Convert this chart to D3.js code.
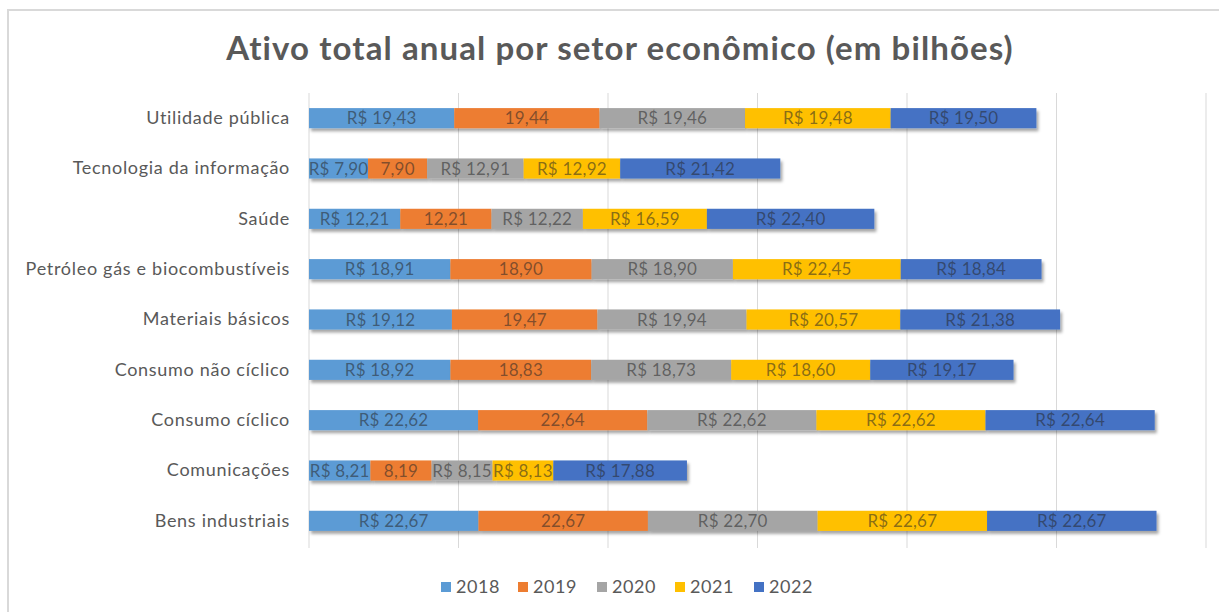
<!DOCTYPE html>
<html>
<head>
<meta charset="utf-8">
<script src="https://cdn.jsdelivr.net/npm/d3@7"></script>
<style>
  body { margin: 0; background: #fff; }
  svg { font-family: Lato, "Liberation Sans", sans-serif; }
</style>
</head>
<body>
<script>
// data
var sectors = ["Utilidade pública", "Tecnologia da informação", "Saúde",
    "Petróleo gás e biocombustíveis", "Materiais básicos", "Consumo não cíclico",
    "Consumo cíclico", "Comunicações", "Bens industriais"];
var years = ["2018", "2019", "2020", "2021", "2022"];
var v2018 = [19.43, 7.90, 12.21, 18.91, 19.12, 18.92, 22.62, 8.21, 22.67];
var v2019 = [19.44, 7.90, 12.21, 18.90, 19.47, 18.83, 22.64, 8.19, 22.67];
var v2020 = [19.46, 12.91, 12.22, 18.90, 19.94, 18.73, 22.62, 8.15, 22.70];
var v2021 = [19.48, 12.92, 16.59, 22.45, 20.57, 18.60, 22.62, 8.13, 22.67];
var v2022 = [19.50, 21.42, 22.40, 18.84, 21.38, 19.17, 22.64, 17.88, 22.67];
var xTicks = [0, 20, 40, 60, 80, 100, 120];
var colors = ["#5B9BD5", "#ED7D31", "#A5A5A5", "#FFC000", "#4472C4"];

var width = 1219, height = 612;
var series = [v2018, v2019, v2020, v2021, v2022];

var rows = sectors.map((s, i) => {
    var r = { sector: s };
    years.forEach((y, k) => { r[y] = series[k][i]; });
    return r;
});

var stack = d3.stack().keys(years)(rows);

var x = d3.scaleLinear().domain([0, 120]).range([309, 1206]);
var y = d3.scaleBand().domain(sectors).range([93, 546]).paddingInner(0.6).paddingOuter(0.3);
var color = d3.scaleOrdinal().domain(years).range(colors);
var fmt = d3.format(".2f");
var brl = v => fmt(v).replace(".", ",");

var svg = d3.select("body").append("svg")
    .attr("width", width)
    .attr("height", height);

var defs = svg.append("defs");
var f = defs.append("filter").attr("id", "shadow")
    .attr("x", "-5%").attr("y", "-30%").attr("width", "110%").attr("height", "180%");
f.append("feDropShadow")
    .attr("dx", 2).attr("dy", 3).attr("stdDeviation", 1.8)
    .attr("flood-color", "#000").attr("flood-opacity", 0.35);

// chart frame
svg.append("rect")
    .attr("x", 8).attr("y", 10)
    .attr("width", 1240).attr("height", 640)
    .attr("fill", "#fff")
    .attr("stroke", "#d9d9d9").attr("stroke-width", 2);

svg.append("text")
    .attr("x", 620).attr("y", 60)
    .attr("text-anchor", "middle")
    .attr("font-size", 33)
    .attr("letter-spacing", 1.1)
    .attr("font-weight", "bold")
    .attr("fill", "#595959")
    .text("Ativo total anual por setor econômico (em bilhões)");

// gridlines
svg.append("g")
    .selectAll("line")
    .data(xTicks)
    .join("line")
    .attr("x1", d => x(d)).attr("x2", d => x(d))
    .attr("y1", 93).attr("y2", 548)
    .attr("stroke", "#d9d9d9").attr("stroke-width", 1);

// category axis
var yAxis = svg.append("g")
    .attr("transform", "translate(309,0)")
    .call(d3.axisLeft(y).tickSize(0).tickPadding(19));
yAxis.select(".domain").remove();
yAxis.selectAll("text")
    .attr("font-size", 18)
    .attr("letter-spacing", 0.7)
    .attr("font-family", "Lato, sans-serif")
    .attr("fill", "#595959");

var layer = svg.append("g").selectAll("g")
    .data(stack)
    .join("g")
    .attr("fill", d => color(d.key));

layer.selectAll("rect")
    .data(d => d)
    .join("rect")
    .attr("x", d => x(d[0]))
    .attr("y", d => y(d.data.sector))
    .attr("width", d => x(d[1]) - x(d[0]))
    .attr("height", y.bandwidth())
    .attr("filter", "url(#shadow)");

layer.selectAll("text")
    .data(d => d.map(p => ({ p: p, key: d.key })))
    .join("text")
    .attr("x", d => (x(d.p[0]) + x(d.p[1])) / 2)
    .attr("y", d => y(d.p.data.sector) + y.bandwidth() / 2)
    .attr("dy", "0.36em")
    .attr("text-anchor", "middle")
    .attr("font-size", 17)
    .attr("letter-spacing", 0.2)
    .attr("fill", "#262626")
    .attr("fill-opacity", 0.55)
    .text(d => (d.key === "2019" ? "" : "R$ ") + brl(d.p.data[d.key]));

// legend
var legendX = [441, 518, 597, 675, 754];
var legend = svg.append("g").selectAll("g")
    .data(years)
    .join("g")
    .attr("transform", (d, i) => "translate(" + legendX[i] + ",587)");

legend.append("rect")
    .attr("x", 0).attr("y", -5)
    .attr("width", 10).attr("height", 10)
    .attr("fill", d => color(d));

legend.append("text")
    .attr("x", 15).attr("dy", "0.36em")
    .attr("font-size", 18)
    .attr("letter-spacing", 0.6)
    .attr("fill", "#595959")
    .text(d => d);
</script>
</body>
</html>
